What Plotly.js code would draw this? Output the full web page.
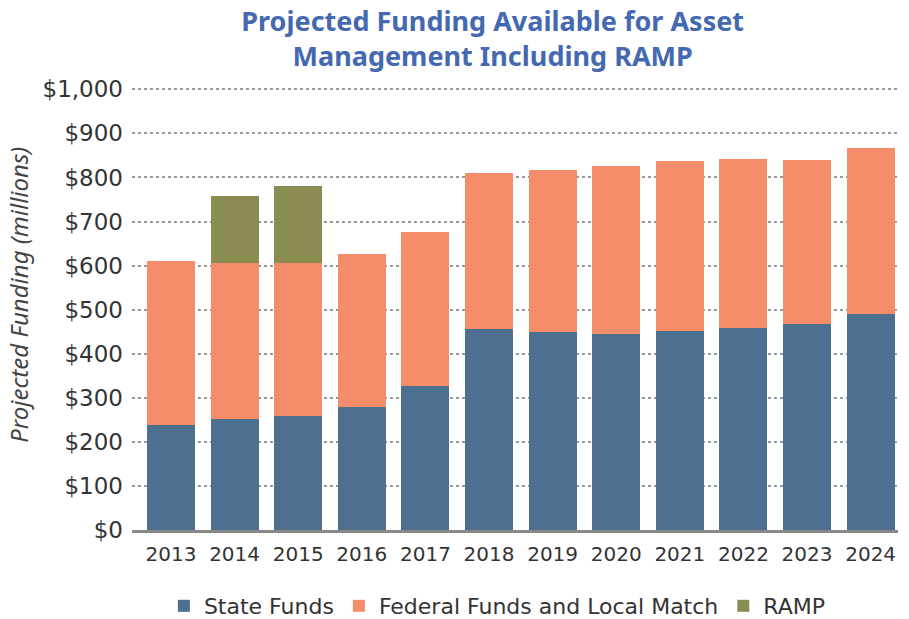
<!DOCTYPE html>
<html>
<head>
<meta charset="utf-8">
<script src="https://cdn.plot.ly/plotly-3.0.1.min.js"></script>
<style>html,body{margin:0;padding:0;background:#fff;}#chart{width:909px;height:619px;}</style>
</head>
<body>
<div id="chart"></div>
<script>
const years = ["2013","2014","2015","2016","2017","2018","2019","2020","2021","2022","2023","2024"];
const stateFunds = [239, 252, 258, 278, 326, 455, 449, 445, 451, 459, 467, 490];
const federalFunds = [372, 354, 348, 348, 351, 354, 367, 381, 386, 383, 372, 377];
const rampFunds = [0, 152, 175, 0, 0, 0, 0, 0, 0, 0, 0, 0];
const yTickVals = [0,100,200,300,400,500,600,700,800,900,1000];
const yTickText = ["$0","$100","$200","$300","$400","$500","$600","$700","$800","$900","$1,000"];
const yTitle = "Projected Funding (millions)";

const font = "Noto Sans, sans-serif";
const wide = "DejaVu Sans, sans-serif";
const traces = [
  {type:"bar", name:"State Funds", x:years, y:stateFunds, marker:{color:"#4e7090"}},
  {type:"bar", name:"Federal Funds and Local Match", x:years, y:federalFunds, marker:{color:"#f58d6a"}},
  {type:"bar", name:"RAMP", x:years, y:rampFunds, marker:{color:"#8b8c52"}}
];
const layout = {
  width:909, height:619,
  paper_bgcolor:"#fff", plot_bgcolor:"#fff",
  barmode:"stack", bargap:0.245,
  margin:{l:132, r:11, t:88, b:89, autoexpand:false},
  title:{text:"<b>Projected Funding Available for Asset<br>Management Including RAMP</b>",
         font:{family:font, size:27, color:"#4469b0"}, x:0.542, xanchor:"center", y:0.95, yanchor:"top"},
  xaxis:{type:"category", range:[-0.613, 11.43], showgrid:false, showline:true, linecolor:"#888", linewidth:3,
         ticks:"", tickfont:{family:wide, size:20, color:"#333"}, ticklabelstandoff:4},
  yaxis:{range:[0,1003], tickvals:yTickVals, ticktext:yTickText, showgrid:true, gridcolor:"#999", griddash:"dot", gridwidth:2,
         zeroline:false, showline:false, ticks:"", tickfont:{family:wide, size:23, color:"#333"}, ticklabelstandoff:8},
  annotations:[{text:"<i>" + yTitle + "</i>", xref:"paper", yref:"paper", x:-0.1475, y:0.532, textangle:-90,
                showarrow:false, xanchor:"center", yanchor:"middle", font:{family:font, size:24, color:"#444"}}],
  legend:{orientation:"h", x:0.477, xanchor:"center", yref:"container", y:0.021, yanchor:"middle",
          font:{family:wide, size:22, color:"#333"}, traceorder:"normal"},
  showlegend:true
};
Plotly.newPlot("chart", traces, layout, {displayModeBar:false, staticPlot:true});
</script>
</body>
</html>
